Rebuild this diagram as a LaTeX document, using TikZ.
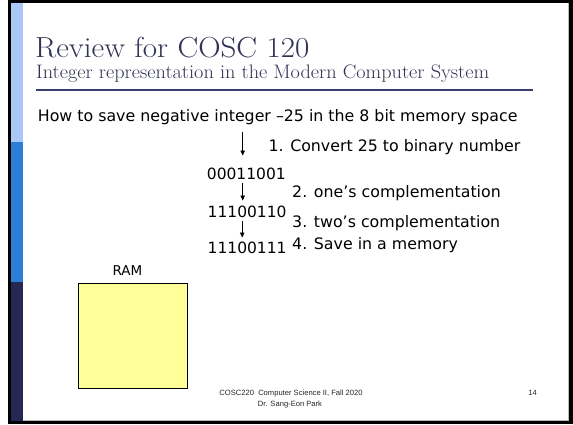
\documentclass[tikz,border=0pt]{standalone}
\usepackage{fontspec}
\newfontfamily\bodyfont{DejaVu Sans}
\newfontfamily\footfont{Liberation Sans}
\usetikzlibrary{arrows.meta}
\definecolor{lightbar}{HTML}{AAC8F5}
\definecolor{midbar}{HTML}{2B7FD7}
\definecolor{navybar}{HTML}{262854}
\definecolor{titlecol}{HTML}{313356}
\definecolor{rulecol}{HTML}{3C3F6E}
\definecolor{ramyellow}{HTML}{FFFF99}
\definecolor{shadow}{HTML}{BBBBBB}
\begin{document}
\begin{tikzpicture}[x=1pt,y=-1pt,
  body/.style={inner sep=0pt, anchor=base west, font=\bodyfont\fontsize{15.8}{18}\selectfont},
  num/.style={inner sep=0pt, anchor=base west, font=\bodyfont\fontsize{15.5}{18}\selectfont},
  foot/.style={inner sep=0pt, anchor=base, text=black!85, font=\footfont\fontsize{7.6}{9}\selectfont},
  steparrow/.style={-{Triangle[length=5pt,width=4.5pt]}, line width=0.8pt}]
\useasboundingbox (0,0) rectangle (573,424);
% frame
\fill[white] (0,0) rectangle (573,424);
\fill[black] (7.7,0) rectangle (573,424);
\fill[white] (11,3.3) rectangle (569,420.7);
\fill[shadow] (567.6,3.3) rectangle (569,420.7);
\fill[shadow] (23,419.5) rectangle (569,420.7);
% side bars
\fill[lightbar] (11,3.3) rectangle (23,142);
\fill[midbar] (11,142) rectangle (23,282);
\fill[navybar] (11,282) rectangle (23,420.7);
% title
\node[anchor=base west, inner sep=0pt, text=titlecol, font=\fontsize{29}{32}\selectfont] (title) at (35,57.5) {\scalebox{1.07}[1]{Review for COSC 120}};
\node[anchor=base west, inner sep=0pt, text=titlecol, font=\fontsize{19.5}{22}\selectfont] (subtitle) at (36,78) {\scalebox{1.04}[1]{Integer representation in the Modern Computer System}};
\coordinate (ruleL) at (36,90);
\coordinate (ruleR) at (533,90);
\draw[rulecol, line width=1.2pt] (ruleL) -- (ruleR);
% body
\node[body] (q) at (37.7,121.7) {How to save negative integer –25 in the 8 bit memory space};
\node[body] (s1) at (268.3,151.7) {1. Convert 25 to binary number};
\node[num] (b1) at (206.7,179) {00011001};
\node[body] (s2) at (292,197.5) {2. one’s complementation};
\node[num] (b2) at (207.5,217.3) {11100110};
\node[body] (s3) at (292,227.5) {3. two’s complementation};
\node[num] (b3) at (207.5,253.8) {11100111};
\node[body] (s4) at (292,249) {4. Save in a memory};
% arrows
\coordinate (a1s) at (242.7,131.7);
\coordinate (a1e) at (242.7,155.5);
\coordinate (a2s) at (242.7,182.7);
\coordinate (a2e) at (242.7,200.5);
\coordinate (a3s) at (242.2,220.7);
\coordinate (a3e) at (242.2,237.5);
\draw[steparrow] (a1s) -- (a1e);
\draw[steparrow] (a2s) -- (a2e);
\draw[steparrow] (a3s) -- (a3e);
% RAM
\node[anchor=base, inner sep=0pt, font=\bodyfont\fontsize{13.5}{16}\selectfont] (ramlabel) at (127.5,275.5) {RAM};
\node[draw=black, fill=ramyellow, line width=1.1pt, inner sep=0pt, minimum width=109pt, minimum height=105pt, anchor=north west] (ram) at (78,283) {};
% footer
\node[foot] (f1) at (291,395.7) {COSC220\ \ Computer Science II, Fall 2020};
\node[foot] (f2) at (290,406.7) {Dr. Sang-Eon Park};
\node[foot, anchor=base east] (pg) at (537,395.7) {14};
\end{tikzpicture}
\end{document}
